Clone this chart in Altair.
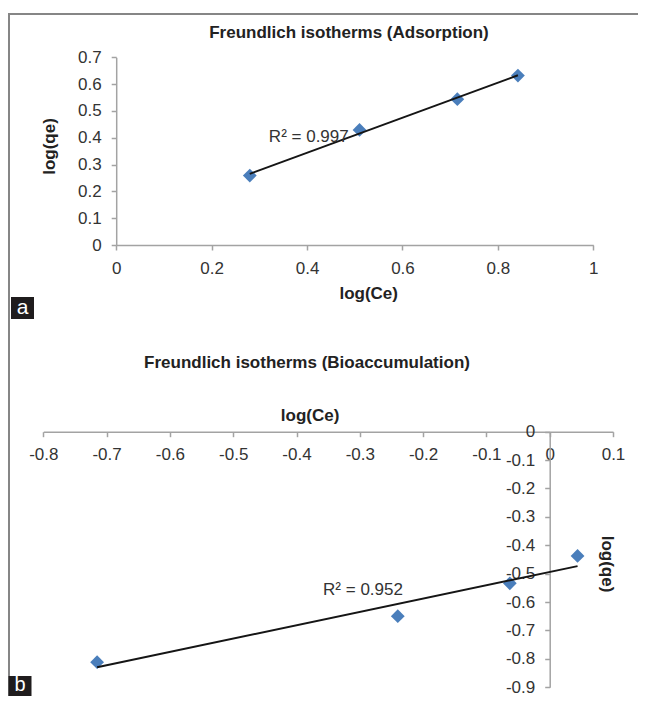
import altair as alt
import pandas as pd

# ---------------- data ----------------
# Panel a: Freundlich isotherms (Adsorption)
ads_log_ce = [0.280, 0.510, 0.715, 0.842]
ads_log_qe = [0.259, 0.429, 0.544, 0.632]
ads_r2_text = ["R² = 0.997"]
ads_r2_x = [0.320]
ads_r2_y = [0.404]

# Panel b: Freundlich isotherms (Bioaccumulation)
bio_log_ce = [-0.715, -0.240, -0.063, 0.044]
bio_log_qe = [-0.812, -0.650, -0.534, -0.4375]
bio_r2_text = ["R² = 0.952"]
bio_r2_x = [-0.358]
bio_r2_y = [-0.559]

# tick values
ads_x_ticks = [0, 0.2, 0.4, 0.6, 0.8, 1]
ads_y_ticks = [0, 0.1, 0.2, 0.3, 0.4, 0.5, 0.6, 0.7]
bio_x_ticks = [-0.8, -0.7, -0.6, -0.5, -0.4, -0.3, -0.2, -0.1, 0, 0.1]
bio_y_ticks = [0, -0.1, -0.2, -0.3, -0.4, -0.5, -0.6, -0.7, -0.8, -0.9]

titles = ["Freundlich isotherms (Adsorption)", "Freundlich isotherms (Bioaccumulation)"]
panel_letters = ["a", "b"]

# ---------------- styling ----------------
W, H = 630, 688
FONT = "Liberation Sans"
BLUE = "#4a7ebb"
LINE = "#151515"
FRAME = "#868686"
AXIS_C = "#a3a3a3"
LABEL_C = "#333333"
TITLE_C = "#222222"

df_a = pd.DataFrame({"log_ce": ads_log_ce, "log_qe": ads_log_qe})
df_b = pd.DataFrame({"log_ce": bio_log_ce, "log_qe": bio_log_qe})
lab_a = pd.DataFrame({"log_ce": ads_r2_x, "log_qe": ads_r2_y, "t": ads_r2_text})
lab_b = pd.DataFrame({"log_ce": bio_r2_x, "log_qe": bio_r2_y, "t": bio_r2_text})

sx_a = alt.Scale(domain=[0, 1], range=[108.2, 585.3], nice=False, zero=False)
sy_a = alt.Scale(domain=[0, 0.7], range=[237.0, 49.3], nice=False, zero=False)
sx_b = alt.Scale(domain=[-0.8, 0.1], range=[35.3, 605.0], nice=False, zero=False)
sy_b = alt.Scale(domain=[-0.9, 0], range=[679.2, 423.7], nice=False, zero=False)

common_axis = dict(
    domainColor=AXIS_C, domainWidth=1.5, tickColor=AXIS_C, tickWidth=1.5,
    tickSize=5, labelPadding=10, labelFont=FONT, labelFontSize=17,
    labelColor=LABEL_C, labelFlush=False, labelOverlap=False,
    titleFont=FONT, titleFontSize=17, titleFontWeight="bold", titleColor=TITLE_C,
    titleAlign="center", titleBaseline="middle", grid=False,
    labelExpr="toString(datum.value)",
)

ax_xa = alt.Axis(orient="bottom", offset=237.0 - H, values=ads_x_ticks, title="log(Ce)",
                 titleX=360.2, titleY=48.3, titleAngle=0, **common_axis)
ax_ya = alt.Axis(orient="left", offset=-108.2, values=ads_y_ticks, title="log(qe)",
                 titleX=-66.5, titleY=138.0, titleAngle=270, **common_axis)
ax_xb = alt.Axis(orient="bottom", offset=423.7 - H, values=bio_x_ticks, title="log(Ce)",
                 titleX=301.6, titleY=-16.7, titleAngle=0, **common_axis)
ax_yb = alt.Axis(orient="left", offset=-541.7, values=bio_y_ticks, title="log(qe)",
                 titleX=56.5, titleY=555.5, titleAngle=90, **common_axis)


def panel(df, lab, sx, sy, axx, axy):
    pts = alt.Chart(df).mark_point(shape="diamond", filled=True, size=190,
                                   color=BLUE, opacity=1).encode(
        x=alt.X("log_ce:Q", scale=sx, axis=axx),
        y=alt.Y("log_qe:Q", scale=sy, axis=axy),
    )
    line = alt.Chart(df).transform_regression("log_ce", "log_qe").mark_line(
        color=LINE, strokeWidth=2).encode(
        x=alt.X("log_ce:Q", scale=sx, axis=None),
        y=alt.Y("log_qe:Q", scale=sy, axis=None),
    )
    txt = alt.Chart(lab).mark_text(align="left", baseline="middle", font=FONT,
                                   fontSize=17, color=LABEL_C).encode(
        x=alt.X("log_ce:Q", scale=sx, axis=None),
        y=alt.Y("log_qe:Q", scale=sy, axis=None),
        text="t:N",
    )
    return [pts, line, txt]


one = alt.Data(values=[{}])

frame_top = alt.Chart(one).mark_rule(color=FRAME, strokeWidth=2).encode(
    x=alt.value(0), x2=alt.value(W), y=alt.value(6))
frame_left = alt.Chart(one).mark_rule(color=FRAME, strokeWidth=2).encode(
    x=alt.value(1), y=alt.value(5), y2=alt.value(H))

title_a = alt.Chart(one).mark_text(font=FONT, fontSize=17, fontWeight="bold",
                                   color=TITLE_C, align="center", baseline="middle").encode(
    x=alt.value(341), y=alt.value(25.3), text=alt.value(titles[0]))
title_b = alt.Chart(one).mark_text(font=FONT, fontSize=17, fontWeight="bold",
                                   color=TITLE_C, align="center", baseline="middle").encode(
    x=alt.value(299), y=alt.value(355.3), text=alt.value(titles[1]))

box_a = alt.Chart(one).mark_rect(color="#1f1c1d").encode(
    x=alt.value(3), x2=alt.value(26), y=alt.value(289), y2=alt.value(311))
box_b = alt.Chart(one).mark_rect(color="#1f1c1d").encode(
    x=alt.value(0.5), x2=alt.value(23.5), y=alt.value(668), y2=alt.value(H))
let_a = alt.Chart(one).mark_text(font=FONT, fontSize=21, color="white",
                                 align="center", baseline="middle").encode(
    x=alt.value(14.5), y=alt.value(300), text=alt.value(panel_letters[0]))
let_b = alt.Chart(one).mark_text(font=FONT, fontSize=20, color="white",
                                 align="center", baseline="middle").encode(
    x=alt.value(12), y=alt.value(677), text=alt.value(panel_letters[1]))

layers = (
    [frame_top, frame_left, title_a, title_b, box_a, box_b, let_a, let_b]
    + panel(df_a, lab_a, sx_a, sy_a, ax_xa, ax_ya)
    + panel(df_b, lab_b, sx_b, sy_b, ax_xb, ax_yb)
)

chart = alt.layer(*layers).resolve_scale(
    x="independent", y="independent"
).properties(
    width=W, height=H, autosize=alt.AutoSizeParams(type="none"), padding=0,
    background="white",
).configure_view(strokeWidth=0)

chart.save("out.html", embed_options={"renderer": "svg", "actions": False})
